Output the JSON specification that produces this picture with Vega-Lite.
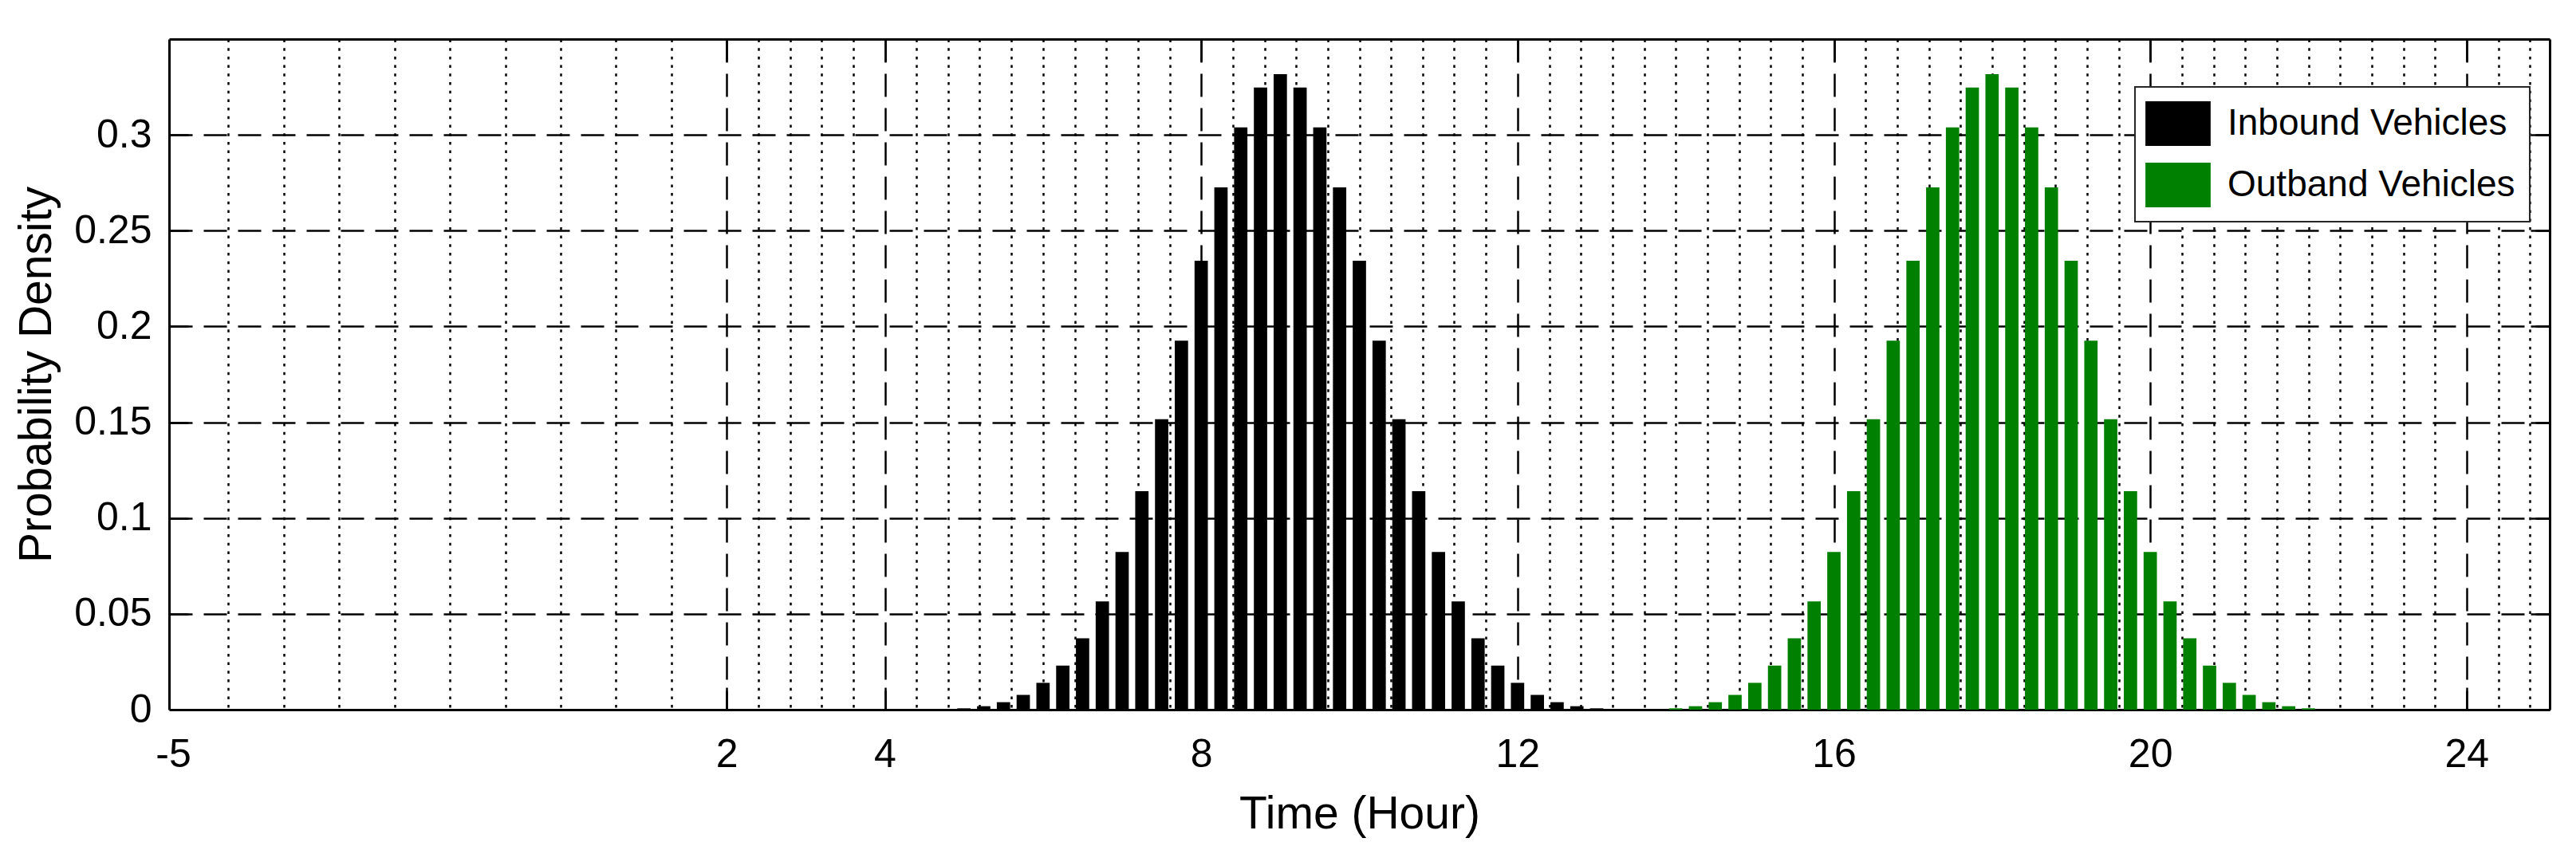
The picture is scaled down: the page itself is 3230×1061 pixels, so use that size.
{
  "$schema": "https://vega.github.io/schema/vega-lite/v6.json",
  "width": 2985,
  "height": 841,
  "autosize": "none",
  "padding": {"left": 212, "top": 49, "right": 33, "bottom": 171},
  "background": "white",
  "config": {
    "view": {"stroke": null},
    "font": "Liberation Sans",
    "legend": {"strokeWidth": 2}
  },
  "data": {
    "values": [
      {"t": 5, "v": 0.0007, "series": "Inbound Vehicles"},
      {"t": 5.25, "v": 0.0018, "series": "Inbound Vehicles"},
      {"t": 5.5, "v": 0.0039, "series": "Inbound Vehicles"},
      {"t": 5.75, "v": 0.0077, "series": "Inbound Vehicles"},
      {"t": 6, "v": 0.014, "series": "Inbound Vehicles"},
      {"t": 6.25, "v": 0.023, "series": "Inbound Vehicles"},
      {"t": 6.5, "v": 0.0372, "series": "Inbound Vehicles"},
      {"t": 6.75, "v": 0.0565, "series": "Inbound Vehicles"},
      {"t": 7, "v": 0.0823, "series": "Inbound Vehicles"},
      {"t": 7.25, "v": 0.114, "series": "Inbound Vehicles"},
      {"t": 7.5, "v": 0.1516, "series": "Inbound Vehicles"},
      {"t": 7.75, "v": 0.1926, "series": "Inbound Vehicles"},
      {"t": 8, "v": 0.2343, "series": "Inbound Vehicles"},
      {"t": 8.25, "v": 0.2726, "series": "Inbound Vehicles"},
      {"t": 8.5, "v": 0.3039, "series": "Inbound Vehicles"},
      {"t": 8.75, "v": 0.3247, "series": "Inbound Vehicles"},
      {"t": 9, "v": 0.3317, "series": "Inbound Vehicles"},
      {"t": 9.25, "v": 0.3247, "series": "Inbound Vehicles"},
      {"t": 9.5, "v": 0.3039, "series": "Inbound Vehicles"},
      {"t": 9.75, "v": 0.2726, "series": "Inbound Vehicles"},
      {"t": 10, "v": 0.2343, "series": "Inbound Vehicles"},
      {"t": 10.25, "v": 0.1926, "series": "Inbound Vehicles"},
      {"t": 10.5, "v": 0.1516, "series": "Inbound Vehicles"},
      {"t": 10.75, "v": 0.114, "series": "Inbound Vehicles"},
      {"t": 11, "v": 0.0823, "series": "Inbound Vehicles"},
      {"t": 11.25, "v": 0.0565, "series": "Inbound Vehicles"},
      {"t": 11.5, "v": 0.0372, "series": "Inbound Vehicles"},
      {"t": 11.75, "v": 0.023, "series": "Inbound Vehicles"},
      {"t": 12, "v": 0.014, "series": "Inbound Vehicles"},
      {"t": 12.25, "v": 0.0077, "series": "Inbound Vehicles"},
      {"t": 12.5, "v": 0.0039, "series": "Inbound Vehicles"},
      {"t": 12.75, "v": 0.0018, "series": "Inbound Vehicles"},
      {"t": 13, "v": 0.0007, "series": "Inbound Vehicles"},
      {"t": 14, "v": 0.0007, "series": "Outband Vehicles"},
      {"t": 14.25, "v": 0.0018, "series": "Outband Vehicles"},
      {"t": 14.5, "v": 0.0039, "series": "Outband Vehicles"},
      {"t": 14.75, "v": 0.0077, "series": "Outband Vehicles"},
      {"t": 15, "v": 0.014, "series": "Outband Vehicles"},
      {"t": 15.25, "v": 0.023, "series": "Outband Vehicles"},
      {"t": 15.5, "v": 0.0372, "series": "Outband Vehicles"},
      {"t": 15.75, "v": 0.0565, "series": "Outband Vehicles"},
      {"t": 16, "v": 0.0823, "series": "Outband Vehicles"},
      {"t": 16.25, "v": 0.114, "series": "Outband Vehicles"},
      {"t": 16.5, "v": 0.1516, "series": "Outband Vehicles"},
      {"t": 16.75, "v": 0.1926, "series": "Outband Vehicles"},
      {"t": 17, "v": 0.2343, "series": "Outband Vehicles"},
      {"t": 17.25, "v": 0.2726, "series": "Outband Vehicles"},
      {"t": 17.5, "v": 0.3039, "series": "Outband Vehicles"},
      {"t": 17.75, "v": 0.3247, "series": "Outband Vehicles"},
      {"t": 18, "v": 0.3317, "series": "Outband Vehicles"},
      {"t": 18.25, "v": 0.3247, "series": "Outband Vehicles"},
      {"t": 18.5, "v": 0.3039, "series": "Outband Vehicles"},
      {"t": 18.75, "v": 0.2726, "series": "Outband Vehicles"},
      {"t": 19, "v": 0.2343, "series": "Outband Vehicles"},
      {"t": 19.25, "v": 0.1926, "series": "Outband Vehicles"},
      {"t": 19.5, "v": 0.1516, "series": "Outband Vehicles"},
      {"t": 19.75, "v": 0.114, "series": "Outband Vehicles"},
      {"t": 20, "v": 0.0823, "series": "Outband Vehicles"},
      {"t": 20.25, "v": 0.0565, "series": "Outband Vehicles"},
      {"t": 20.5, "v": 0.0372, "series": "Outband Vehicles"},
      {"t": 20.75, "v": 0.023, "series": "Outband Vehicles"},
      {"t": 21, "v": 0.014, "series": "Outband Vehicles"},
      {"t": 21.25, "v": 0.0077, "series": "Outband Vehicles"},
      {"t": 21.5, "v": 0.0039, "series": "Outband Vehicles"},
      {"t": 21.75, "v": 0.0018, "series": "Outband Vehicles"},
      {"t": 22, "v": 0.0007, "series": "Outband Vehicles"}
    ]
  },
  "layer": [
    {
      "mark": {"type": "point", "opacity": 0},
      "encoding": {
        "x": {
          "field": "t", "type": "quantitative",
          "scale": {"domain": [-5, 25], "nice": false, "zero": false},
          "axis": {
            "orient": "bottom",
            "values": [-4.3, -3.6, -2.9, -2.2, -1.5, -0.8, -0.1, 0.6, 1.3, 2.4, 2.8, 3.2, 3.6, 4.4, 4.8, 5.2, 5.6, 6, 6.4, 6.8, 7.2, 7.6, 8.4, 8.8, 9.2, 9.6, 10, 10.4, 10.8, 11.2, 11.6, 12.4, 12.8, 13.2, 13.6, 14, 14.4, 14.8, 15.2, 15.6, 16.4, 16.8, 17.2, 17.6, 18, 18.4, 18.8, 19.2, 19.6, 20.4, 20.8, 21.2, 21.6, 22, 22.4, 22.8, 23.2, 23.6, 24.4, 24.8],
            "labels": false, "ticks": false, "domain": false,
            "grid": true, "gridColor": "#000", "gridOpacity": 1, "gridWidth": 2.5, "gridDash": [3.5, 7.2],
            "title": null
          }
        },
        "y": {
          "field": "v", "type": "quantitative",
          "scale": {"domain": [0, 0.35], "nice": false},
          "axis": {
            "orient": "right",
            "values": [0, 0.05, 0.1, 0.15, 0.2, 0.25, 0.3],
            "labels": false, "ticks": true, "tickSize": -24, "tickColor": "#000", "tickWidth": 2.5,
            "domain": true, "domainColor": "#000", "domainWidth": 3,
            "grid": false, "title": null
          }
        }
      }
    },
    {
      "mark": {"type": "bar", "width": 16.7},
      "encoding": {
        "x": {
          "field": "t", "type": "quantitative",
          "scale": {"domain": [-5, 25], "nice": false, "zero": false},
          "axis": {
            "orient": "bottom",
            "values": [-5, 2, 4, 8, 12, 16, 20, 24],
            "labelExpr": "'' + datum.value",
            "labelFlush": false, "labelOverlap": false,
            "labelFont": "Liberation Sans", "labelFontSize": 50, "labelColor": "#000",
            "labelPadding": 31, "labelBaseline": "top",
            "ticks": false,
            "domain": true, "domainColor": "#000", "domainWidth": 3,
            "grid": true, "gridColor": "#000", "gridWidth": 2.5, "gridDash": [29, 14],
            "gridOpacity": {"condition": {"test": "datum.value == -5", "value": 0}, "value": 1},
            "title": "Time (Hour)",
            "titleFont": "Liberation Sans", "titleFontSize": 57, "titleFontWeight": "normal", "titleColor": "#000",
            "titleBaseline": "alphabetic", "titleY": 148
          }
        },
        "y": {
          "field": "v", "type": "quantitative", "stack": null,
          "scale": {"domain": [0, 0.35], "nice": false},
          "axis": {
            "orient": "left",
            "values": [0, 0.05, 0.1, 0.15, 0.2, 0.25, 0.3],
            "labelExpr": "'' + datum.value",
            "labelFlush": false, "labelOverlap": false,
            "labelFont": "Liberation Sans", "labelFontSize": 50, "labelColor": "#000",
            "labelPadding": 22,
            "ticks": false,
            "domain": true, "domainColor": "#000", "domainWidth": 3,
            "grid": true, "gridColor": "#000", "gridWidth": 2.5, "gridDash": [29, 14],
            "gridOpacity": {"condition": {"test": "datum.value == 0", "value": 0}, "value": 1},
            "title": "Probability Density",
            "titleFont": "Liberation Sans", "titleFontSize": 57, "titleFontWeight": "normal", "titleColor": "#000",
            "titleAngle": 270, "titleBaseline": "alphabetic", "titleAlign": "center",
            "titleX": -149, "titleY": 420.5
          }
        },
        "color": {
          "field": "series", "type": "nominal",
          "scale": {"domain": ["Inbound Vehicles", "Outband Vehicles"], "range": ["#000000", "#008000"]},
          "legend": {
            "title": null,
            "orient": "none", "legendX": 2465, "legendY": 60,
            "labelFont": "Liberation Sans", "labelFontSize": 46, "labelColor": "#000", "labelLimit": 0,
            "symbolType": "M-1.46,-1H1.46V1H-1.46Z", "symbolSize": 3136,
            "symbolStrokeWidth": 0, "symbolOpacity": 1,
            "padding": 18, "rowPadding": 21, "labelOffset": 34, "symbolOffset": 8,
            "strokeColor": "#262626", "fillColor": "#ffffff"
          }
        }
      }
    },
    {
      "mark": {"type": "point", "opacity": 0},
      "encoding": {
        "x": {
          "field": "t", "type": "quantitative",
          "scale": {"domain": [-5, 25], "nice": false, "zero": false},
          "axis": {
            "orient": "top",
            "values": [2, 4, 8, 12, 16, 20, 24],
            "labels": false, "ticks": true, "tickSize": -28, "tickColor": "#000", "tickWidth": 2.5,
            "domain": true, "domainColor": "#000", "domainWidth": 3,
            "grid": false, "title": null
          }
        },
        "y": {
          "field": "v", "type": "quantitative",
          "scale": {"domain": [0, 0.35], "nice": false},
          "axis": {
            "orient": "left",
            "values": [0.05, 0.1, 0.15, 0.2, 0.25, 0.3],
            "labels": false, "ticks": true, "tickSize": -24, "tickColor": "#000", "tickWidth": 2.5,
            "domain": false, "grid": false, "title": null
          }
        }
      }
    },
    {
      "mark": {"type": "point", "opacity": 0},
      "encoding": {
        "x": {
          "field": "t", "type": "quantitative",
          "scale": {"domain": [-5, 25], "nice": false, "zero": false},
          "axis": {
            "orient": "bottom",
            "values": [2, 4, 8, 12, 16, 20, 24],
            "labels": false, "ticks": true, "tickSize": -28, "tickColor": "#000", "tickWidth": 2.5,
            "domain": false, "grid": false, "title": null
          }
        },
        "y": {
          "field": "v", "type": "quantitative",
          "scale": {"domain": [0, 0.35], "nice": false},
          "axis": null
        }
      }
    }
  ],
  "resolve": {"axis": {"x": "independent", "y": "independent"}}
}
